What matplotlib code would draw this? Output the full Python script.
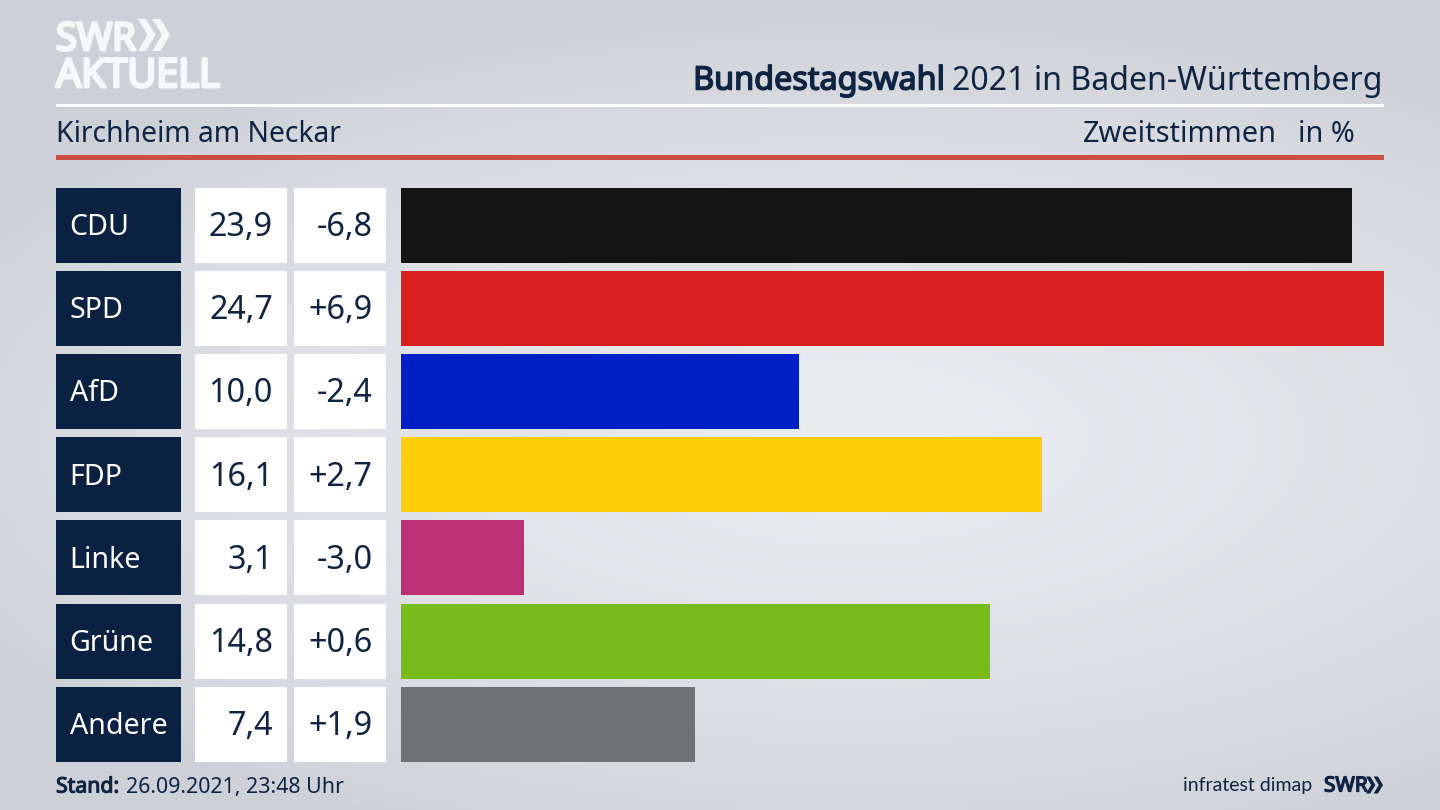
import matplotlib
matplotlib.use("Agg")
import matplotlib.pyplot as plt
import matplotlib.patheffects as pe
from matplotlib.patches import Polygon, Rectangle
import numpy as np

parties = ["CDU", "SPD", "AfD", "FDP", "Linke", "Grüne", "Andere"]
shares = [23.9, 24.7, 10.0, 16.1, 3.1, 14.8, 7.4]
share_labels = ["23,9", "24,7", "10,0", "16,1", "3,1", "14,8", "7,4"]
change_labels = ["-6,8", "+6,9", "-2,4", "+2,7", "-3,0", "+0,6", "+1,9"]
colors = ["#141414", "#d9201e", "#0020c4", "#ffcc08", "#bd3075", "#78bc1b", "#707173"]

NAVY = "#0b2142"
TEXT = "#0f2342"
LOGO = "#f7f8f9"

plt.rcParams["font.family"] = ["Noto Sans", "DejaVu Sans"]

fig = plt.figure(figsize=(14.4, 8.1), dpi=100)

# full figure axes in pixels, for everything around the bars
ax = fig.add_axes([0, 0, 1, 1])
ax.set_xlim(0, 1440)
ax.set_ylim(810, 0)
ax.axis("off")

# background glow
yy, xx = np.mgrid[0:810:200j, 0:1440:300j]
dist = np.sqrt(((xx - 850) / 1000) ** 2 + ((yy - 440) / 430) ** 2)
glow = np.clip(1 - dist, 0, 1) ** 0.7
base = np.array([205, 208, 214]) / 255
light = np.array([236, 237, 241]) / 255
bg = base + glow[..., None] * (light - base)
ax.imshow(bg, extent=(0, 1440, 810, 0), aspect="auto", zorder=0)


def heavy(color, width):
    # the installed fonts have no real bold here, so thicken the outline
    return [pe.withStroke(linewidth=width, foreground=color)]


def chevrons(x, y, h, color):
    # two arrow heads, used by both SWR logos
    w = h * 0.5
    for dx in (0, w * 0.9):
        pts = [(x + dx, y), (x + dx + w * 0.5, y), (x + dx + w * 1.1, y + h / 2),
               (x + dx + w * 0.5, y + h), (x + dx, y + h), (x + dx + w * 0.6, y + h / 2)]
        ax.add_patch(Polygon(pts, closed=True, color=color, lw=0, zorder=3))


# logo
ax.text(56, 50, "SWR", fontsize=27.5, color=LOGO, va="baseline", ha="left", family="Open Sans",
        path_effects=heavy(LOGO, 2.2))
ax.text(56, 87, "AKTUELL", fontsize=28.6, color=LOGO, va="baseline", ha="left", family="Open Sans",
        path_effects=heavy(LOGO, 2.2))
chevrons(138, 19, 32, LOGO)

# header
ax.text(1383, 81, "2021 in Baden-Württemberg", fontsize=23.1, color=TEXT, ha="right", va="center")
ax.text(945, 81, "Bundestagswahl", fontsize=23.3, color=TEXT, ha="right", va="center",
        path_effects=heavy(TEXT, 1.1))
ax.add_patch(Rectangle((56, 104), 1328, 3, color="#ffffff", lw=0, zorder=2))
ax.text(56, 135, "Kirchheim am Neckar", fontsize=20.4, color=TEXT, ha="left", va="center")
ax.text(1277, 135, "Zweitstimmen", fontsize=20.8, color=TEXT, ha="right", va="center")
ax.text(1355, 135, "in %", fontsize=20.8, color=TEXT, ha="right", va="center")
ax.add_patch(Rectangle((56, 155), 1328, 5, color="#c94f41", lw=0, zorder=2))

# table cells next to the bars
row_top = 187.5
row_h = 75
row_step = 83.2
for i, party in enumerate(parties):
    top = row_top + i * row_step
    mid = top + row_h / 2
    ax.add_patch(Rectangle((56, top), 125, row_h, color=NAVY, lw=0, zorder=2))
    ax.add_patch(Rectangle((195, top), 92, row_h, color="#ffffff", lw=0, zorder=2))
    ax.add_patch(Rectangle((294, top), 92, row_h, color="#ffffff", lw=0, zorder=2))
    ax.text(69.5, mid + 2.5, party, fontsize=20.6, color="#ffffff", ha="left", va="center", zorder=3)
    ax.text(273, mid + 2.5, share_labels[i], fontsize=23.3, color=TEXT, ha="right", va="center", zorder=3)
    ax.text(372.5, mid + 2.5, change_labels[i], fontsize=23.3, color=TEXT, ha="right", va="center", zorder=3)

# bars on their own axes, the biggest share fills the width
bar_ax = fig.add_axes([400.5 / 1440, 1 - (row_top + 6 * row_step + row_h) / 810,
                       (1384 - 400.5) / 1440, (6 * row_step + row_h) / 810])
bar_ax.patch.set_alpha(0)
bar_ax.set_xlim(0, max(shares))
bar_ax.set_ylim(6 + row_h / row_step / 2, -row_h / row_step / 2)
bar_ax.axis("off")
bar_ax.barh(range(len(shares)), shares, height=row_h / row_step, color=colors)

# footer
ax.text(56, 787, "Stand:", fontsize=15.3, color=TEXT, ha="left", va="center", path_effects=heavy(TEXT, 0.8))
ax.text(126, 787, "26.09.2021, 23:48 Uhr", fontsize=15.4, color=TEXT, ha="left", va="center")
ax.text(1312, 786, "infratest dimap", fontsize=14, color=TEXT, ha="right", va="center", family="Lato")
ax.text(1324, 786, "SWR", fontsize=15, color=TEXT, ha="left", va="center", path_effects=heavy(TEXT, 1.0))
chevrons(1366, 776.5, 17, TEXT)

fig.savefig("out.png", dpi=100)
